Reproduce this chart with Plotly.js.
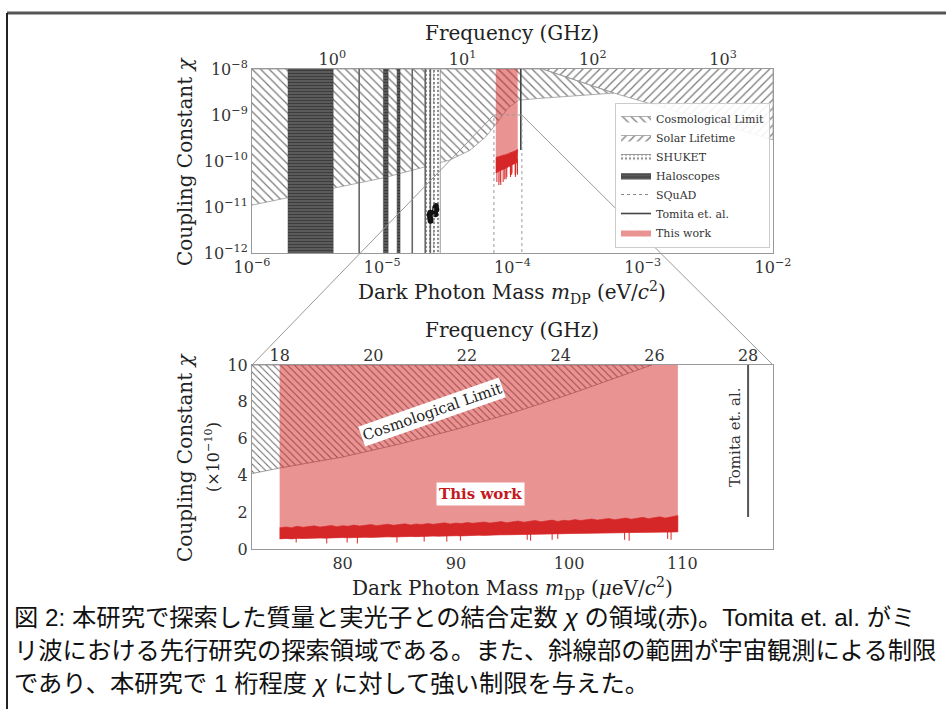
<!DOCTYPE html>
<html><head><meta charset="utf-8">
<script src="https://cdn.plot.ly/plotly-3.0.1.min.js"></script>
<style>html,body{margin:0;padding:0;background:#fff;}#chart{width:946px;height:709px;}</style>
</head><body><div id="chart"></div>
<script>
// ---------------- DATA ----------------
const H_EV_PER_GHZ = 4.135667e-6;           // 1 GHz photon energy in eV

// axis ranges
const massRangeTop = [1e-6, 1e-2];          // eV
const chiRangeTop  = [1e-12, 1e-8];
const massRangeBot = [72, 118];             // μeV
const chiRangeBot  = [0, 10];               // ×1e-10

// tick labels
const topMassTicks = [1e-6, 1e-5, 1e-4, 1e-3, 1e-2];
const topMassTickText = ['10<sup>−6</sup>','10<sup>−5</sup>','10<sup>−4</sup>','10<sup>−3</sup>','10<sup>−2</sup>'];
const topChiTicks = [1e-12, 1e-11, 1e-10, 1e-9, 1e-8];
const topChiTickText = ['10<sup>−12</sup>','10<sup>−11</sup>','10<sup>−10</sup>','10<sup>−9</sup>','10<sup>−8</sup>'];
const topFreqTicks = [1, 10, 100, 1000];
const topFreqTickText = ['10<sup>0</sup>','10<sup>1</sup>','10<sup>2</sup>','10<sup>3</sup>'];
const botMassTicks = [80, 90, 100, 110];
const botChiTicks = [0, 2, 4, 6, 8, 10];
const botFreqTicks = [18, 20, 22, 24, 26, 28];

// Cosmological limit (top panel, eV)
const cosmoMassTop = [1e-6, 1.89e-6, 4.2e-6, 1.02e-5, 1.96e-5, 3.3e-5, 4.7e-5, 6.2e-5, 7.4e-5, 9.2e-5, 1.11e-4, 1.63e-4, 6.0e-4];
const cosmoChiTop  = [1.1e-11, 1.6e-11, 2.6e-11, 4.3e-11, 7e-11, 1.05e-10, 1.7e-10, 3.3e-10, 6.1e-10, 1.4e-9, 2.1e-9, 2.3e-9, 3.0e-9];
const cosmoCornerMass = 1.7e-4;
// Solar lifetime (top panel)
const solarMass = [1.7e-4, 6.0e-4, 1e-2];
const solarChi  = [1e-8, 3.0e-9, 2.9e-10];
// SHUKET band
const shuketBand = [2.14e-5, 2.79e-5];
// Haloscopes
const haloBandLo = [1.89e-6, 1.02e-5, 1.30e-5];
const haloBandHi = [4.2e-6, 1.11e-5, 1.37e-5];
const haloLineMass = [6.65e-6, 1.70e-5, 2.14e-5, 2.34e-5];
const haloBlobMass = [2.31e-5, 2.33e-5, 2.35e-5, 2.34e-5, 2.53e-5, 2.55e-5, 2.58e-5, 2.56e-5, 2.60e-5];
const haloBlobChi  = [6.8e-12, 5.8e-12, 5.0e-12, 7.5e-12, 8.0e-12, 9.5e-12, 1.05e-11, 7.0e-12, 8.8e-12];
// SQuAD
const squadMass = 2.486e-5;
// Tomita et al. (28 GHz)
const tomitaMassUeV = 115.8;
const tomitaChiMin = 1.74;    // ×1e-10

// This work (μeV, ×1e-10)
const thisWorkRange = [74.44, 109.6];
const bandMass  = [74.44,75.0,75.5,76.0,76.5,77.0,77.5,78.0,78.5,79.0,79.5,80.0,80.5,81.0,81.5,82.0,82.5,83.0,83.5,84.0,84.5,85.0,85.5,86.0,86.5,87.0,87.5,88.0,88.5,89.0,89.5,90.0,90.5,91.0,91.5,92.0,92.5,93.0,93.5,94.0,94.5,95.0,95.5,96.0,96.5,97.0,97.5,98.0,98.5,99.0,99.5,100.0,100.5,101.0,101.5,102.0,102.5,103.0,103.5,104.0,104.5,105.0,105.5,106.0,106.5,107.0,107.5,108.0,108.5,109.0,109.6];
const bandUpper = [1.15,1.20,1.16,1.24,1.18,1.22,1.26,1.19,1.23,1.28,1.21,1.27,1.24,1.30,1.25,1.29,1.33,1.27,1.31,1.35,1.29,1.33,1.37,1.31,1.36,1.33,1.39,1.34,1.38,1.42,1.36,1.41,1.38,1.44,1.40,1.43,1.47,1.41,1.46,1.49,1.43,1.48,1.52,1.46,1.50,1.55,1.48,1.53,1.57,1.50,1.56,1.53,1.60,1.55,1.58,1.63,1.57,1.61,1.66,1.59,1.64,1.68,1.62,1.67,1.72,1.65,1.70,1.75,1.68,1.76,1.82];
const bandLower = [0.55,0.57,0.55,0.58,0.57,0.59,0.58,0.60,0.59,0.61,0.60,0.62,0.61,0.63,0.62,0.64,0.63,0.65,0.64,0.66,0.65,0.67,0.66,0.68,0.67,0.69,0.68,0.70,0.69,0.71,0.70,0.72,0.71,0.73,0.73,0.75,0.74,0.76,0.75,0.77,0.77,0.78,0.78,0.79,0.80,0.80,0.81,0.81,0.82,0.82,0.83,0.84,0.84,0.85,0.85,0.86,0.86,0.87,0.87,0.88,0.88,0.89,0.89,0.90,0.90,0.91,0.91,0.92,0.92,0.93,0.93];
const spikeMass = [75.9,78.6,80.4,81.3,84.8,87.2,89.2,90.4,96.3,96.6,98.5,99.0,104.9,105.3,108.7,109.0];
const spikeMin  = [0.35,0.30,0.35,0.30,0.35,0.40,0.40,0.45,0.50,0.45,0.50,0.55,0.50,0.45,0.55,0.50];
const spikeTop  = [0.80,0.80,0.80,0.80,0.90,0.90,0.90,0.90,1.00,1.00,1.00,1.00,1.10,1.10,1.10,1.10];

// Cosmological limit (bottom panel)
const cosmoMassBot = [72, 74.44, 80, 85, 90, 95, 100, 105, 107.3];
const cosmoChiBot  = [4.1, 4.4, 5.0, 5.7, 6.5, 7.4, 8.4, 9.5, 10.0];

// Caption
const captionLines = [
  '図 2: 本研究で探索した質量と実光子との結合定数 <i>χ</i> の領域(赤)。Tomita et. al. がミ',
  'リ波における先行研究の探索領域である。また、斜線部の範囲が宇宙観測による制限',
  'であり、本研究で 1 桁程度 <i>χ</i> に対して強い制限を与えた。'
];

// ---------------- LAYOUT GEOMETRY ----------------
const W = 946, H = 709;
const xd = [252/W, 773/W];
const yTop = [1-253/H, 1-69/H];
const yBot = [1-549/H, 1-365/H];
const FONT = '"DejaVu Serif", serif';
const HATCH = '#777';
const RED = 'rgb(214,39,40)';
const PINK = 'rgba(214,39,40,0.5)';

const uev = v => v*1e-6, e10 = v => v*1e-10;

// ---------------- TRACES ----------------
const traces = [];
traces.push({
  x: cosmoMassTop.concat([cosmoCornerMass, massRangeTop[0]]),
  y: cosmoChiTop.concat([chiRangeTop[1], chiRangeTop[1]]),
  xaxis:'x', yaxis:'y', type:'scatter', mode:'lines', fill:'toself',
  line:{width:0.8, color:'#999'}, fillcolor:'rgba(0,0,0,0)',
  fillpattern:{shape:'\\', fgcolor:HATCH, bgcolor:'rgba(255,255,255,0)', size:6, solidity:0.2},
  name:'Cosmological Limit', legendgroup:'cos', hoverinfo:'skip'
});
traces.push({
  x: solarMass.concat([massRangeTop[1]]),
  y: solarChi.concat([chiRangeTop[1]]),
  xaxis:'x', yaxis:'y', type:'scatter', mode:'lines', fill:'toself',
  line:{width:0.8, color:'#999'}, fillcolor:'rgba(0,0,0,0)',
  fillpattern:{shape:'/', fgcolor:HATCH, bgcolor:'rgba(255,255,255,0)', size:6, solidity:0.2},
  name:'Solar Lifetime', legendgroup:'sol', hoverinfo:'skip'
});
traces.push({
  x:[shuketBand[0], shuketBand[0], shuketBand[1], shuketBand[1]],
  y:[chiRangeTop[0], chiRangeTop[1], chiRangeTop[1], chiRangeTop[0]],
  xaxis:'x', yaxis:'y', type:'scatter', mode:'lines', fill:'toself',
  line:{width:0.8, color:'#888'}, fillcolor:'#fff',
  fillpattern:{shape:'.', fgcolor:'#8a8a8a', bgcolor:'#fff', size:4, solidity:0.25},
  name:'SHUKET', legendgroup:'shu', hoverinfo:'skip'
});
(function(){
  const x=[], y=[];
  haloBandLo.forEach((lo,i)=>{ const hi=haloBandHi[i];
    x.push(lo,lo,hi,hi,null); y.push(chiRangeTop[0],chiRangeTop[1],chiRangeTop[1],chiRangeTop[0],null); });
  traces.push({x, y, xaxis:'x', yaxis:'y', type:'scatter', mode:'lines', fill:'toself',
    line:{width:0.5, color:'#444'}, fillcolor:'#555',
    fillpattern:{shape:'-', fgcolor:'#3c3c3c', bgcolor:'#5e5e5e', size:3, solidity:0.4},
    name:'Haloscopes', legendgroup:'halo', hoverinfo:'skip'});
  const lx=[], ly=[];
  haloLineMass.forEach(m=>{ lx.push(m,m,null); ly.push(chiRangeTop[0],chiRangeTop[1],null); });
  traces.push({x:lx, y:ly, xaxis:'x', yaxis:'y', type:'scatter', mode:'lines',
    line:{width:1.6, color:'#666'}, showlegend:false, legendgroup:'halo', hoverinfo:'skip'});
  traces.push({x:haloBlobMass, y:haloBlobChi, xaxis:'x', yaxis:'y', type:'scatter', mode:'markers',
    marker:{size:6, color:'#111'}, showlegend:false, legendgroup:'halo', hoverinfo:'skip'});
})();
traces.push({x:[squadMass, squadMass], y:[chiRangeTop[0], chiRangeTop[1]], xaxis:'x', yaxis:'y',
  type:'scatter', mode:'lines', line:{width:1, color:'#888', dash:'dot'},
  name:'SQuAD', legendgroup:'sq', hoverinfo:'skip'});
traces.push({x:[uev(tomitaMassUeV), uev(tomitaMassUeV)], y:[e10(tomitaChiMin), chiRangeTop[1]], xaxis:'x', yaxis:'y',
  type:'scatter', mode:'lines', line:{width:1.6, color:'#444'},
  name:'Tomita et. al.', legendgroup:'tom', hoverinfo:'skip'});
traces.push({
  x:[uev(thisWorkRange[0]), uev(thisWorkRange[0]), uev(thisWorkRange[1]), uev(thisWorkRange[1])],
  y:[e10(bandLower[0]), chiRangeTop[1], chiRangeTop[1], e10(bandLower[bandLower.length-1])],
  xaxis:'x', yaxis:'y', type:'scatter', mode:'lines', fill:'toself', line:{width:0, color:PINK}, fillcolor:PINK,
  name:'This work', legendgroup:'tw', hoverinfo:'skip'});
function bandTrace(xa, ya, fx, fy){
  const bx = bandMass.map(fx).concat(bandMass.slice().reverse().map(fx));
  const by = bandUpper.map(fy).concat(bandLower.slice().reverse().map(fy));
  return {x:bx, y:by, xaxis:xa, yaxis:ya, type:'scatter', mode:'lines', fill:'toself',
    line:{width:0.6, color:RED}, fillcolor:RED, showlegend:false, hoverinfo:'skip'};
}
function spikeTrace(xa, ya, fx, fy){
  const sx=[], sy=[];
  spikeMass.forEach((m,i)=>{ sx.push(fx(m),fx(m),null); sy.push(fy(spikeMin[i]),fy(spikeTop[i]),null); });
  return {x:sx, y:sy, xaxis:xa, yaxis:ya, type:'scatter', mode:'lines', line:{width:1, color:RED}, showlegend:false, hoverinfo:'skip'};
}
traces.push(spikeTrace('x','y',uev,e10));
traces.push(bandTrace('x','y',uev,e10));
traces.push({x:[uev(massRangeBot[0]),uev(massRangeBot[0]),uev(massRangeBot[1]),uev(massRangeBot[1])],
  y:[chiRangeTop[0], e10(chiRangeBot[1]), e10(chiRangeBot[1]), chiRangeTop[0]], xaxis:'x', yaxis:'y',
  type:'scatter', mode:'lines', line:{width:1, color:'#999', dash:'dot'}, showlegend:false, hoverinfo:'skip'});
traces.push({x:[1], y:[1e-10], xaxis:'x2', yaxis:'y', type:'scatter', mode:'markers', marker:{opacity:0}, showlegend:false, hoverinfo:'skip'});

// ---- Bottom panel ----
traces.push({
  x: cosmoMassBot.concat([massRangeBot[0]]), y: cosmoChiBot.concat([chiRangeBot[1]]),
  xaxis:'x3', yaxis:'y3', type:'scatter', mode:'lines', fill:'toself',
  line:{width:0.8, color:'#888'}, fillcolor:'rgba(0,0,0,0)',
  fillpattern:{shape:'\\', fgcolor:'#666', bgcolor:'rgba(255,255,255,0)', size:5, solidity:0.2},
  showlegend:false, hoverinfo:'skip'});
traces.push({
  x:[thisWorkRange[0], thisWorkRange[0], thisWorkRange[1], thisWorkRange[1]],
  y:[bandLower[0], chiRangeBot[1], chiRangeBot[1], bandLower[bandLower.length-1]],
  xaxis:'x3', yaxis:'y3', type:'scatter', mode:'lines', fill:'toself', line:{width:0, color:PINK}, fillcolor:PINK,
  showlegend:false, hoverinfo:'skip'});
traces.push(spikeTrace('x3','y3',v=>v,v=>v));
traces.push(bandTrace('x3','y3',v=>v,v=>v));
traces.push({x:[tomitaMassUeV, tomitaMassUeV], y:[tomitaChiMin, chiRangeBot[1]], xaxis:'x3', yaxis:'y3',
  type:'scatter', mode:'lines', line:{width:2, color:'#555'}, showlegend:false, hoverinfo:'skip'});
traces.push({x:[20], y:[5], xaxis:'x4', yaxis:'y3', type:'scatter', mode:'markers', marker:{opacity:0}, showlegend:false, hoverinfo:'skip'});

// ---------------- AXES ----------------
const tickFont = {family:FONT, size:16, color:'#333'};
const baseAx = {showgrid:false, zeroline:false, ticks:'', tickfont:tickFont, showline:true, mirror:true, linecolor:'#999', linewidth:1};
const L10 = Math.log10;
const layout = {
  width:W, height:H, margin:{l:0,r:0,t:0,b:0}, paper_bgcolor:'#fff', plot_bgcolor:'#fff',
  showlegend:true,
  legend:{x:615/W, y:1-103/H, xanchor:'left', yanchor:'top', bgcolor:'rgba(255,255,255,0.9)', bordercolor:'#ccc', borderwidth:1,
    font:{family:FONT, size:11, color:'#333'}, tracegroupgap:0, itemwidth:30},
  xaxis: Object.assign({}, baseAx, {domain:xd, anchor:'y', type:'log', range:[L10(massRangeTop[0]), L10(massRangeTop[1])],
    tickmode:'array', tickvals:topMassTicks, ticktext:topMassTickText}),
  yaxis: Object.assign({}, baseAx, {domain:yTop, anchor:'x', type:'log', range:[L10(chiRangeTop[0]), L10(chiRangeTop[1])],
    tickmode:'array', tickvals:topChiTicks, ticktext:topChiTickText}),
  xaxis2: Object.assign({}, baseAx, {overlaying:'x', anchor:'y', side:'top', type:'log', showline:false,
    range:[L10(massRangeTop[0]/H_EV_PER_GHZ), L10(massRangeTop[1]/H_EV_PER_GHZ)],
    tickmode:'array', tickvals:topFreqTicks, ticktext:topFreqTickText}),
  xaxis3: Object.assign({}, baseAx, {domain:xd, anchor:'y3', range:massRangeBot, tickmode:'array', tickvals:botMassTicks}),
  yaxis3: Object.assign({}, baseAx, {domain:yBot, anchor:'x3', range:chiRangeBot, tickmode:'array', tickvals:botChiTicks}),
  xaxis4: Object.assign({}, baseAx, {overlaying:'x3', anchor:'y3', side:'top', showline:false,
    range:[uev(massRangeBot[0])/H_EV_PER_GHZ, uev(massRangeBot[1])/H_EV_PER_GHZ], tickmode:'array', tickvals:botFreqTicks}),
  annotations:[], shapes:[]
};

// ---------------- ANNOTATIONS ----------------
const titleFont = {family:FONT, size:20, color:'#222'};
const ann = (text, px, py, extra) => Object.assign({text, x:px/W, y:1-py/H, xref:'paper', yref:'paper', showarrow:false,
  xanchor:'center', yanchor:'middle', font:titleFont}, extra||{});
layout.annotations.push(
  ann('Frequency (GHz)', 512, 33),
  ann('Dark Photon Mass <i>m</i><sub>DP</sub> (eV/<i>c</i><sup>2</sup>)', 512, 292),
  ann('Coupling Constant <i>χ</i>', 185, 161, {textangle:-90}),
  ann('Frequency (GHz)', 512, 330),
  ann('Dark Photon Mass <i>m</i><sub>DP</sub> (<i>μ</i>eV/<i>c</i><sup>2</sup>)', 512, 588),
  ann('Coupling Constant <i>χ</i>', 185, 457, {textangle:-90}),
  ann('(×10<sup>−10</sup>)', 212, 457, {textangle:-90, font:{family:FONT, size:16, color:'#222'}}),
  ann('Cosmological Limit', 432, 412, {textangle:-19.3, bgcolor:'#fff', borderpad:1, font:{family:FONT, size:15, color:'#222'}}),
  ann('<b>This work</b>', 480, 494, {bgcolor:'#fff', borderpad:2, font:{family:FONT, size:15, color:'#c41a1f'}}),
  ann('Tomita et. al.', 735, 437, {textangle:-90, font:{family:FONT, size:15, color:'#333'}})
);
const capY = [617, 650, 683];
captionLines.forEach((t,i)=>layout.annotations.push(ann(t, 12, capY[i], {xanchor:'left',
  font:{family:'"Liberation Sans", "Noto Sans CJK JP", sans-serif', size:24.3, color:'#111'}})));

// ---------------- SHAPES ----------------
const topPX = m => xd[0] + (L10(m)-L10(massRangeTop[0]))/(L10(massRangeTop[1])-L10(massRangeTop[0]))*(xd[1]-xd[0]);
const topPY = c => yTop[0] + (L10(c)-L10(chiRangeTop[0]))/(L10(chiRangeTop[1])-L10(chiRangeTop[0]))*(yTop[1]-yTop[0]);
const cornerY = topPY(e10(chiRangeBot[1]));
layout.shapes.push(
  {type:'line', xref:'paper', yref:'paper', x0:topPX(uev(massRangeBot[0])), y0:cornerY, x1:xd[0], y1:yBot[1], line:{color:'#999', width:1}},
  {type:'line', xref:'paper', yref:'paper', x0:topPX(uev(massRangeBot[1])), y0:cornerY, x1:xd[1], y1:yBot[1], line:{color:'#999', width:1}},
  {type:'line', xref:'paper', yref:'paper', x0:7/W, x1:1, y0:1-13/H, y1:1-13/H, line:{color:'#555', width:3}},
  {type:'line', xref:'paper', yref:'paper', x0:7/W, x1:7/W, y0:0, y1:1-13/H, line:{color:'#222', width:2}}
);

Plotly.newPlot('chart', traces, layout, {staticPlot:true});
</script></body></html>
